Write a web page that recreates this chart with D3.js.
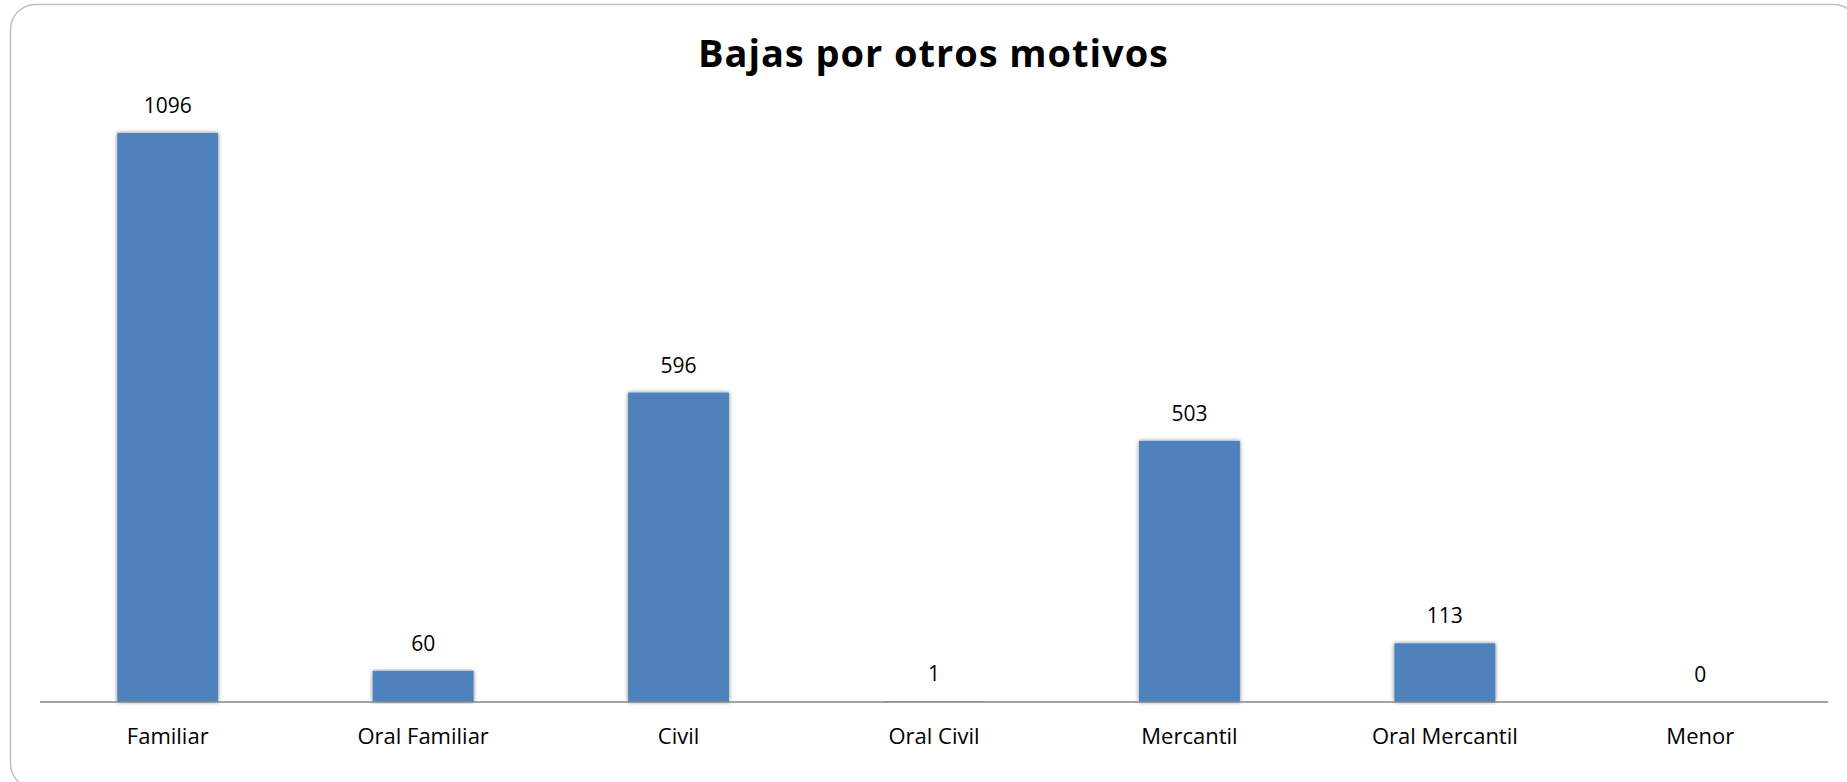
<!DOCTYPE html>
<html>
<head>
<meta charset="utf-8">
<script src="https://cdn.jsdelivr.net/npm/d3@7"></script>
<style>
html,body{margin:0;padding:0;background:#fff;}
svg{display:block;}
</style>
</head>
<body>
<svg id="chart" width="1847" height="782"></svg>
<script>
const title = "Bajas por otros motivos";
const categories = ["Familiar","Oral Familiar","Civil","Oral Civil","Mercantil","Oral Mercantil","Menor"];
const values = [1096, 60, 596, 1, 503, 113, 0];

const W = 1847, H = 782;
const svg = d3.select("#chart");
const defs = svg.append("defs");
const f = defs.append("filter").attr("id","sh").attr("x","-20%").attr("y","-5%").attr("width","140%").attr("height","110%");
f.append("feGaussianBlur").attr("in","SourceAlpha").attr("stdDeviation",2).attr("result","b");
f.append("feOffset").attr("in","b").attr("dx",0).attr("dy",0).attr("result","o");
f.append("feComponentTransfer").attr("in","o").attr("result","o2")
  .append("feFuncA").attr("type","linear").attr("slope",0.5);
const m = f.append("feMerge");
m.append("feMergeNode").attr("in","o2");
m.append("feMergeNode").attr("in","SourceGraphic");

// outer rounded border
svg.append("rect").attr("x",10.5).attr("y",4.5).attr("width",1848).attr("height",784)
  .attr("rx",25).attr("ry",25).attr("fill","#fff").attr("stroke","#bfbfbf").attr("stroke-width",1.5);

const x0 = 40, x1 = 1828, yBase = 702;
const pxPerUnit = (702 - 133) / 1096;
const yMax = 1200;
const x = d3.scaleBand().domain(categories).range([x0, x1]).paddingInner(0.605).paddingOuter(0.3025);
const y = d3.scaleLinear().domain([0, yMax]).range([yBase, yBase - yMax * pxPerUnit]);

const data = categories.map((c,i)=>({c, v: values[i]}));

svg.append("g").selectAll("rect").data(data).join("rect")
  .attr("x", d => x(d.c))
  .attr("y", d => y(d.v))
  .attr("width", x.bandwidth())
  .attr("height", d => y(0) - y(d.v))
  .attr("fill", "#4f81bd")
  .attr("filter", "url(#sh)");

// axis
const axis = d3.axisBottom(x).tickSize(0).tickPadding(0);
const gx = svg.append("g").attr("transform", `translate(0,${yBase})`).call(axis);
gx.select(".domain").attr("stroke","#868686").attr("stroke-width",1.6).attr("d", `M${x0},0H${x1}`);
gx.selectAll(".tick text")
  .attr("font-family","'Open Sans', sans-serif").attr("font-size",22).attr("fill","#000")
  .attr("dy",null).attr("y",42);

// value labels
svg.append("g").selectAll("text").data(data).join("text")
  .attr("x", d => x(d.c) + x.bandwidth()/2)
  .attr("y", d => y(d.v) - 20)
  .attr("text-anchor","middle")
  .attr("font-family","'Open Sans', sans-serif").attr("font-size",21).attr("fill","#000")
  .text(d => d.v);

svg.append("text").attr("x",933).attr("y",67).attr("text-anchor","middle")
  .attr("font-family","'Open Sans', sans-serif").attr("font-weight","bold").attr("font-size",38)
  .attr("textLength",470).attr("lengthAdjust","spacing")
  .attr("fill","#000").text(title);
</script>
</body>
</html>
